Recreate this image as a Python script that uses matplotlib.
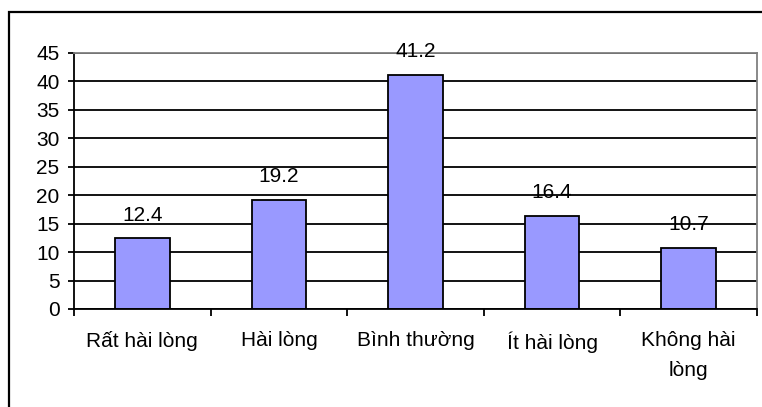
import numpy as np
import matplotlib.pyplot as plt
from matplotlib.patches import Rectangle

plt.rcParams['font.family'] = ['Liberation Sans', 'DejaVu Sans']

categories = ["Rất hài lòng", "Hài lòng", "Bình thường", "Ít hài lòng", "Không hài\nlòng"]
values = [12.4, 19.2, 41.2, 16.4, 10.7]
yticks = [0, 5, 10, 15, 20, 25, 30, 35, 40, 45]

W, H = 762, 407
fig = plt.figure(figsize=(W / 100, H / 100), dpi=100)

# outer chart frame (right/bottom run off the image)
fig.patches.append(Rectangle((9 / W, -0.05), 1.2, 1 - 12 / H + 0.05,
                             transform=fig.transFigure, fill=False,
                             edgecolor='black', linewidth=1.6))

ax = fig.add_axes([74 / W, 1 - 309 / H, (757 - 74) / W, (309 - 53) / H])
x = np.arange(len(categories))
ax.bar(x, values, width=0.4, color='#9999ff', edgecolor='black', linewidth=1.3, zorder=3)
for xi, v in zip(x, values):
    ax.annotate(f"{v}", (xi, v), xytext=(0, 10), textcoords='offset points',
                ha='center', va='bottom', fontsize=15, zorder=4)

ax.set_xlim(-0.5, len(categories) - 0.5)
ax.set_ylim(0, 45)
ax.set_yticks(yticks)
ax.yaxis.grid(True, color='black', linewidth=1.3, zorder=0)
ax.tick_params(axis='y', labelsize=15, length=4.5, width=1.3, pad=6)

ax.set_xticks(x)
ax.set_xticklabels(categories, fontsize=15, linespacing=1.75)
ax.set_xticks(np.arange(len(categories) + 1) - 0.5, minor=True)
ax.tick_params(axis='x', which='major', length=0, pad=16)
ax.tick_params(axis='x', which='minor', length=5, width=1.3)

for s in ['top', 'right']:
    ax.spines[s].set_color('#808080')
    ax.spines[s].set_linewidth(1.3)
for s in ['left', 'bottom']:
    ax.spines[s].set_linewidth(1.3)
ax.spines['bottom'].set_zorder(5)

fig.savefig('out.png', dpi=100)
